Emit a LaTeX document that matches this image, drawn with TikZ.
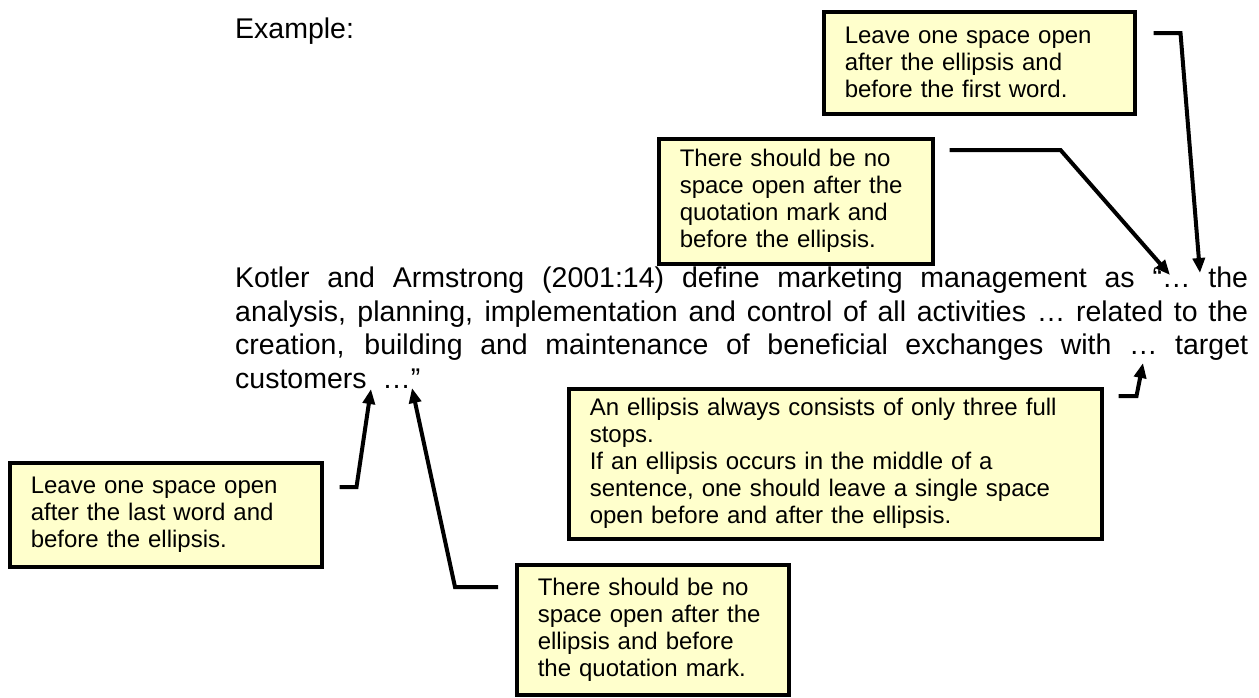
\documentclass[tikz,border=0pt]{standalone}
\usepackage{fontspec}
\setmainfont{Liberation Sans}
\usetikzlibrary{arrows.meta}
\definecolor{noteyellow}{RGB}{255,255,204}

\begin{document}
\begin{tikzpicture}[x=1pt, y=-1pt,
    note/.style={draw, line width=3.5pt, fill=noteyellow, anchor=north west, align=left,
        inner xsep=21pt, inner ysep=0pt, font=\fontsize{24}{27}\selectfont},
    body/.style={anchor=base west, inner sep=0pt, font=\fontsize{28.5}{33}\selectfont},
    pointer/.style={line width=4pt, line join=miter, -{Triangle[length=15pt, width=12pt]}}]
    \useasboundingbox (0, 0) rectangle (1259, 697);

    % quoted text
    \node [body] (example) at (235, 38) {Example:};
    \node [body] (line1) at (235, 287) {\makebox[1013pt][s]{Kotler and Armstrong (2001:14) define marketing management as “…\ the}};
    \node [body] (line2) at (235, 321) {\makebox[1013pt][s]{analysis, planning, implementation and control of all activities … related to the}};
    \node [body] (line3) at (235, 354) {\makebox[1013pt][s]{creation, building and maintenance of beneficial exchanges with … target}};
    \node [body] (line4) at (235, 388) {customers\ \ …”};

    % where the arrows point
    \coordinate (gapthe) at (1200, 273);
    \coordinate (gapquote) at (1170, 275);
    \coordinate (dotswith) at (1143, 363);
    \coordinate (gapcust) at (371, 389);
    \coordinate (gapclose) at (412, 388);

    % notes
    \node [note, text width=269pt, minimum height=102pt] (first) at (822, 10)
        {Leave one space open\\after the ellipsis and\\before the first word.};
    \node [note, text width=232pt, minimum height=125pt] (quote) at (657, 137)
        {There should be no\\space open after the\\quotation mark and\\before the ellipsis.};
    \node [note, text width=491pt, minimum height=150pt] (rule) at (567, 387)
        {An ellipsis always consists of only three full\\stops.\\If an ellipsis occurs in the middle of a\\sentence, one should leave a single space\\open before and after the ellipsis.};
    \node [note, text width=270pt, minimum height=104pt] (last) at (8, 461)
        {Leave one space open\\after the last word and\\before the ellipsis.};
    \node [note, text width=230pt, minimum height=130pt] (close) at (515, 563)
        {There should be no\\space open after the\\ellipsis and before\\the quotation mark.};

    % arrows
    \draw [pointer] ([shift={(17, 23)}]first.north east) -- ++(27, 0) -- (gapthe);
    \draw [pointer] ([shift={(15, 13)}]quote.north east) -- ++(111, 0) -- (gapquote);
    \draw [pointer] ([shift={(15, 9)}]rule.north east) -- ++(18, 0) -- (dotswith);
    \draw [pointer] ([shift={(16, 26)}]last.north east) -- ++(17, 0) -- (gapcust);
    \draw [pointer] ([shift={(-17, 24)}]close.north west) -- ++(-43, 0) -- (gapclose);
\end{tikzpicture}
\end{document}
